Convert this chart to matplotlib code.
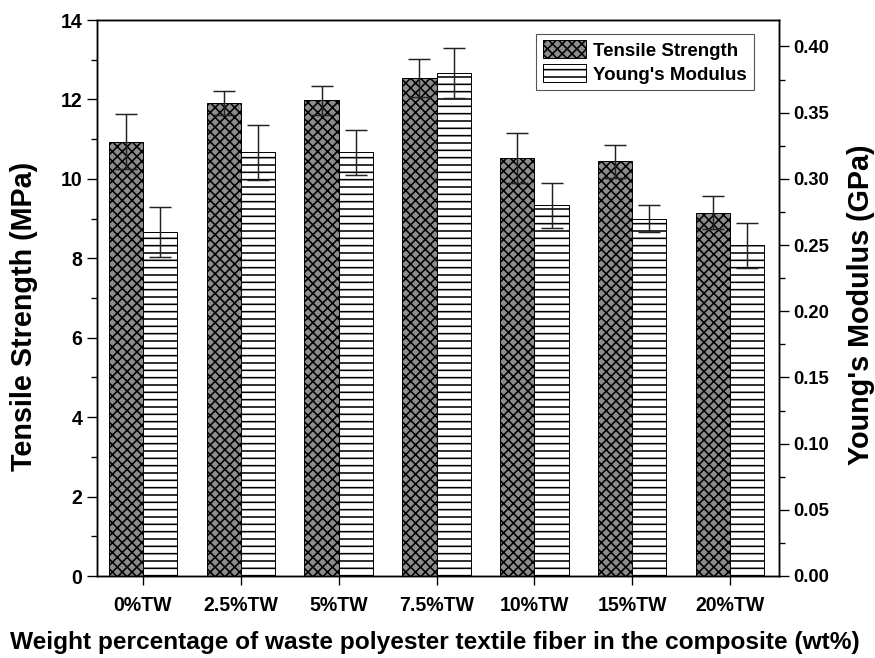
import matplotlib
matplotlib.use("Agg")
import matplotlib.pyplot as plt
from matplotlib.ticker import MultipleLocator, FormatStrFormatter
import numpy as np

# data
categories = ["0%TW", "2.5%TW", "5%TW", "7.5%TW", "10%TW", "15%TW", "20%TW"]
tensile = [10.94, 11.91, 11.98, 12.53, 10.53, 10.44, 9.15]
tensile_err = [0.70, 0.31, 0.36, 0.48, 0.63, 0.42, 0.41]
modulus = [0.26, 0.32, 0.32, 0.38, 0.28, 0.27, 0.25]
modulus_err = [0.019, 0.021, 0.017, 0.019, 0.017, 0.010, 0.017]

plt.rcParams['font.family'] = ['Liberation Sans', 'DejaVu Sans']
plt.rcParams['font.weight'] = 'bold'
plt.rcParams['hatch.linewidth'] = 1.3

DPI = 88
fig = plt.figure(figsize=(875 / DPI, 658 / DPI), dpi=DPI)
ax = fig.add_axes([97 / 875, 1 - 576 / 658, (779 - 97) / 875, (576 - 20) / 658])
ax2 = ax.twinx()

x = np.arange(len(categories))
w = 0.35

b1 = ax.bar(x - w / 2, tensile, w, facecolor='#8c8c8c', edgecolor='black',
            hatch='xxx', linewidth=0.8, label='Tensile Strength', zorder=2)
ax.errorbar(x - w / 2, tensile, yerr=tensile_err, fmt='none', ecolor='#222222',
            elinewidth=1.2, capsize=9, capthick=1.2, zorder=3)
b2 = ax2.bar(x + w / 2, modulus, w, facecolor='white', edgecolor='black',
             hatch='--', linewidth=0.8, label="Young's Modulus", zorder=2)
ax2.errorbar(x + w / 2, modulus, yerr=modulus_err, fmt='none', ecolor='#222222',
             elinewidth=1.2, capsize=9, capthick=1.2, zorder=3)

ax.set_xlim(-0.47, 6.5)
ax.set_ylim(0, 14)
ax2.set_ylim(0, 0.42)

ax.set_xticks(x)
ax.set_xticklabels(categories)
ax.yaxis.set_major_locator(MultipleLocator(2))
ax.yaxis.set_minor_locator(MultipleLocator(1))
ax2.yaxis.set_major_locator(MultipleLocator(0.05))
ax2.yaxis.set_minor_locator(MultipleLocator(0.025))
ax2.yaxis.set_major_formatter(FormatStrFormatter('%.2f'))

for a in (ax, ax2):
    for s in a.spines.values():
        s.set_linewidth(1.2)
    a.tick_params(which='major', direction='out', length=8.5, width=1.1)
    a.tick_params(which='minor', direction='out', length=5, width=1.1)
ax.tick_params(axis='y', labelsize=16)
ax.tick_params(axis='x', length=7, labelsize=16, pad=9)
ax2.tick_params(axis='y', labelsize=15)

ax.set_ylabel('Tensile Strength (MPa)', fontsize=23.5, fontweight='bold')
ax.yaxis.set_label_coords(-0.107, 0.466)
ax.yaxis.label.set_va('center')
ax2.set_ylabel("Young's Modulus (GPa)", fontsize=23.5, fontweight='bold')
ax2.yaxis.set_label_coords(1.120, 0.487)
ax2.yaxis.label.set_va('center')
ax.set_xlabel('Weight percentage of waste polyester textile fiber in the composite (wt%)',
              fontsize=20, fontweight='bold')
ax.xaxis.set_label_coords(0.496, -0.119)
ax.xaxis.label.set_va('center')

leg = ax.legend([b1, b2], ['Tensile Strength', "Young's Modulus"],
                loc='upper right', bbox_to_anchor=(0.963, 0.975),
                fancybox=False, edgecolor='#555555', framealpha=1,
                prop={'size': 15.3, 'weight': 'bold'}, handlelength=2.3,
                handleheight=1.1, borderpad=0.35, labelspacing=0.25,
                handletextpad=0.4, borderaxespad=0)
leg.get_frame().set_linewidth(0.9)

fig.savefig('out.png', dpi=DPI)
